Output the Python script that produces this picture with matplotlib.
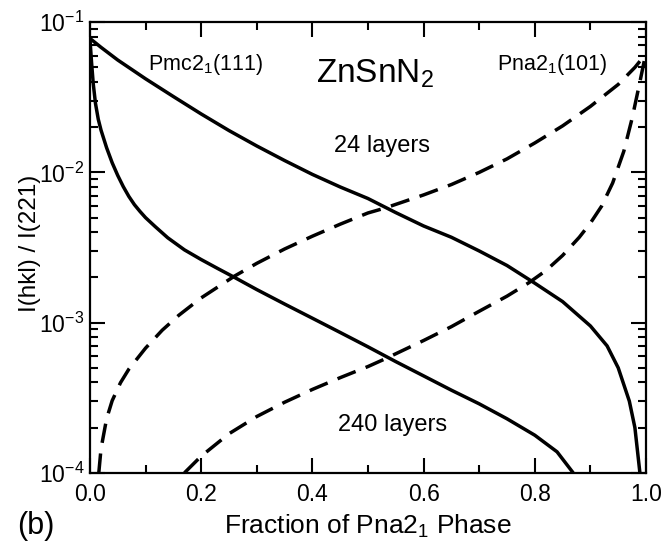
import matplotlib
matplotlib.use("Agg")
import matplotlib.pyplot as plt
from matplotlib.ticker import MultipleLocator, LogLocator, NullFormatter

plt.rcParams['font.family'] = ['Liberation Sans', 'DejaVu Sans']
plt.rcParams['mathtext.fontset'] = 'custom'
plt.rcParams['mathtext.rm'] = 'Liberation Sans'
plt.rcParams['mathtext.it'] = 'Liberation Sans:italic'
plt.rcParams['mathtext.default'] = 'regular'

# Pmc2_1(111) relative intensity, 24 layers
x_pmc_24 = [0.0, 0.02, 0.05, 0.1, 0.15, 0.2, 0.25, 0.3, 0.35, 0.4, 0.45, 0.5,
            0.55, 0.6, 0.65, 0.7, 0.75, 0.8, 0.85, 0.9, 0.93, 0.95, 0.97, 0.98, 0.989]
y_pmc_24 = [0.078, 0.068, 0.056, 0.042, 0.032, 0.0245, 0.019, 0.0150, 0.0120,
            0.0097, 0.0080, 0.0067, 0.0054, 0.0044, 0.0037, 0.0030, 0.0024,
            0.00183, 0.00138, 0.00095, 0.00070, 0.00050, 0.00030, 0.00020, 0.0001]

# Pmc2_1(111) relative intensity, 240 layers
x_pmc_240 = [0.0, 0.003, 0.006, 0.01, 0.015, 0.02, 0.03, 0.04, 0.05, 0.06, 0.07,
             0.08, 0.09, 0.1, 0.117, 0.14, 0.17, 0.2, 0.23, 0.26, 0.3, 0.35, 0.4,
             0.45, 0.5, 0.55, 0.6, 0.65, 0.7, 0.75, 0.8, 0.84, 0.869]
y_pmc_240 = [0.078, 0.0537, 0.0389, 0.0288, 0.0226, 0.0191, 0.0146, 0.0116,
             0.00955, 0.00804, 0.00692, 0.0061, 0.0055, 0.0050, 0.00437, 0.00367,
             0.00305, 0.00263, 0.00229, 0.0020, 0.00166, 0.00133, 0.00107,
             0.00086, 0.00069, 0.00055, 0.000442, 0.000355, 0.000288, 0.000229,
             0.000178, 0.000138, 0.0001]

# Pna2_1(101) relative intensity, 24 layers
x_pna_24 = [0.016, 0.02, 0.03, 0.04, 0.055, 0.07, 0.1, 0.13, 0.16, 0.2, 0.26,
            0.3, 0.35, 0.4, 0.45, 0.5, 0.53, 0.6, 0.65, 0.7, 0.75, 0.8, 0.85,
            0.9, 0.95, 0.98, 1.0]
y_pna_24 = [1e-4, 1.45e-4, 2.29e-4, 3.02e-4, 3.98e-4, 4.9e-4, 6.76e-4, 8.9e-4,
            1.12e-3, 1.46e-3, 2.04e-3, 2.48e-3, 3.09e-3, 3.76e-3, 4.52e-3,
            5.37e-3, 5.78e-3, 7.08e-3, 8.3e-3, 1.0e-2, 1.23e-2, 1.57e-2,
            2.04e-2, 2.75e-2, 3.85e-2, 5.0e-2, 6.17e-2]

# Pna2_1(101) relative intensity, 240 layers
x_pna_240 = [0.17, 0.2, 0.25, 0.3, 0.35, 0.4, 0.45, 0.5, 0.53, 0.6, 0.65, 0.7,
             0.75, 0.79, 0.82, 0.85, 0.88, 0.9, 0.92, 0.94, 0.96, 0.975, 0.99, 1.0]
y_pna_240 = [1e-4, 1.29e-4, 1.82e-4, 2.37e-4, 2.95e-4, 3.59e-4, 4.3e-4, 5.1e-4,
             5.72e-4, 7.6e-4, 9.4e-4, 1.19e-3, 1.5e-3, 1.85e-3, 2.22e-3,
             2.8e-3, 3.7e-3, 4.6e-3, 5.95e-3, 8.5e-3, 1.38e-2, 2.29e-2,
             4.17e-2, 6.3e-2]

x_ticks = [0.0, 0.2, 0.4, 0.6, 0.8, 1.0]
x_tick_labels = ["0.0", "0.2", "0.4", "0.6", "0.8", "1.0"]

fig = plt.figure(figsize=(6.66, 5.41), dpi=100)
ax = fig.add_axes([0.135, 0.126, 0.835, 0.833])

lw = 2.5
dash = (0, (5.6, 3.1))
ax.plot(x_pmc_24, y_pmc_24, color='black', lw=lw, solid_capstyle='butt')
ax.plot(x_pmc_240, y_pmc_240, color='black', lw=lw, solid_capstyle='butt')
ax.plot(x_pna_24, y_pna_24, color='black', lw=lw, linestyle=dash, dash_capstyle='butt')
ax.plot(x_pna_240, y_pna_240, color='black', lw=lw, linestyle=dash, dash_capstyle='butt')

ax.set_yscale('log')
ax.set_xlim(0, 1)
ax.set_ylim(1e-4, 1e-1)

ax.set_xticks(x_ticks)
ax.set_xticklabels(x_tick_labels)
ax.xaxis.set_minor_locator(MultipleLocator(0.1))
ax.yaxis.set_major_locator(LogLocator(base=10, numticks=10))
ax.yaxis.set_minor_locator(LogLocator(base=10, subs=range(2, 10), numticks=20))
ax.yaxis.set_minor_formatter(NullFormatter())

ax.tick_params(which='both', direction='in', top=True, right=True, width=1.5,
               labelsize=16.5)
ax.tick_params(axis='x', pad=7)
ax.tick_params(axis='y', pad=4)
ax.tick_params(which='major', length=11)
ax.tick_params(which='minor', length=5.5)
for s in ax.spines.values():
    s.set_linewidth(1.6)

ax.set_xlabel("Fraction of Pna2$_1$ Phase", fontsize=19, labelpad=5)
ax.set_ylabel("I(hkl) / I(221)", fontsize=17.5)
ax.yaxis.set_label_coords(-0.088, 0.51)

ax.text(0.208, 0.905, "Pmc2$_1$(111)", transform=ax.transAxes, fontsize=15.5,
        ha='center', va='center')
ax.text(0.831, 0.905, "Pna2$_1$(101)", transform=ax.transAxes, fontsize=15.5,
        ha='center', va='center')
ax.text(0.512, 0.885, "ZnSnN$_2$", transform=ax.transAxes, fontsize=24,
        ha='center', va='center')
ax.text(0.526, 0.725, "24 layers", transform=ax.transAxes, fontsize=17,
        ha='center', va='center')
ax.text(0.544, 0.106, "240 layers", transform=ax.transAxes, fontsize=17,
        ha='center', va='center')
fig.text(0.054, 0.028, "(b)", fontsize=22, ha='center', va='center')

fig.savefig("out.png", dpi=100)
